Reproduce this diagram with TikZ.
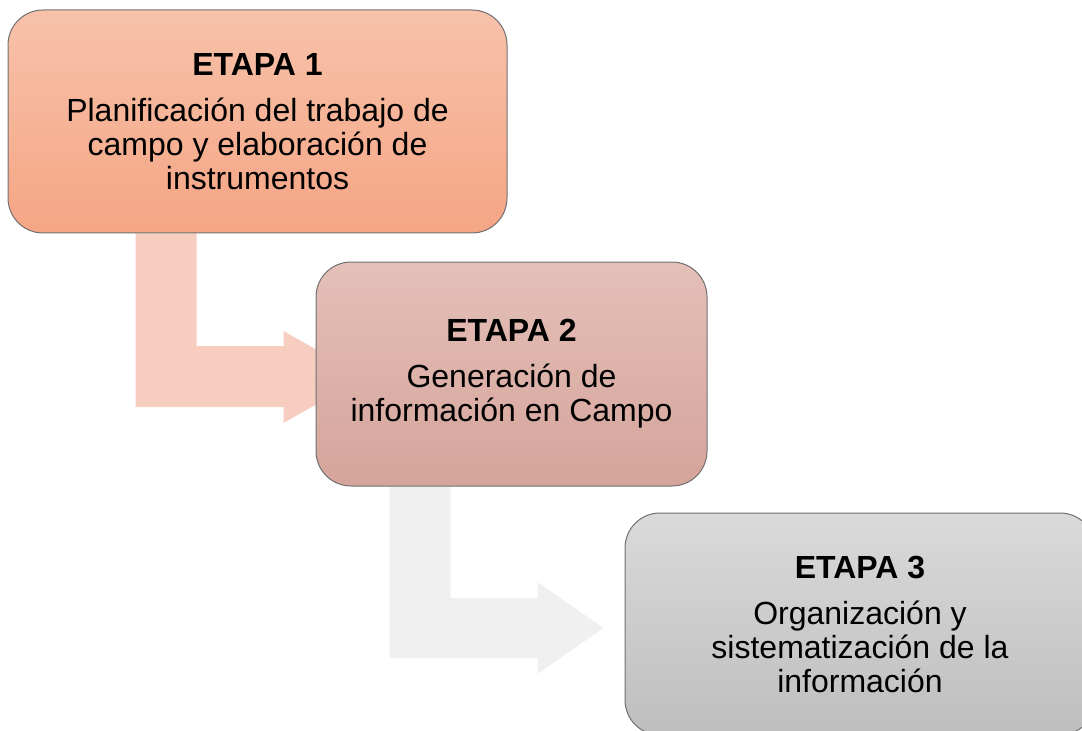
\documentclass[tikz,border=0pt]{standalone}
\usepackage{fontspec}
\setmainfont{Liberation Sans}
\usetikzlibrary{calc,backgrounds}

\tikzset{every picture/.style={line width=0.75pt}}
\tikzset{
  etapa/.style={draw={rgb, 255:red, 112; green, 112; blue, 112 }, rounded corners=26.25pt, inner sep=0pt, align=center, font=\fontsize{24}{25.5}\selectfont},
  etapaUno/.style={etapa, minimum width=374.25pt, minimum height=167.25pt, top color={rgb, 255:red, 247; green, 194; blue, 170 }, bottom color={rgb, 255:red, 245; green, 165; blue, 132 }},
  etapaDos/.style={etapa, minimum width=293.25pt, minimum height=168pt, top color={rgb, 255:red, 228; green, 192; blue, 184 }, bottom color={rgb, 255:red, 213; green, 164; blue, 155 }},
  etapaTres/.style={etapa, minimum width=352.5pt, minimum height=166.5pt, top color={rgb, 255:red, 218; green, 218; blue, 218 }, bottom color={rgb, 255:red, 190; green, 190; blue, 190 }},
  flechaUno/.style={fill={rgb, 255:red, 246; green, 205; blue, 191 }},
  flechaDos/.style={fill={rgb, 255:red, 240; green, 240; blue, 240 }}
}

\begin{document}
\begin{tikzpicture}[x=0.75pt,y=0.75pt,yscale=-1,xscale=1]
    %set diagram to 1082 x 731
    \clip (0,0) rectangle (1082,731);

    %Shape: Rounded Rect [id:etapa1]
    \node [etapaUno] (etapa1) at (257.5,121.5) {\textbf{ETAPA 1}\\[9pt] Planificación del trabajo de\\ campo y elaboración de\\ instrumentos};
    %Shape: Rounded Rect [id:etapa2]
    \node [etapaDos] (etapa2) at (511.5,374) {\textbf{ETAPA 2}\\[9pt] Generación de\\ información en Campo};
    %Shape: Rounded Rect [id:etapa3]
    \node [etapaTres] (etapa3) at (860,624) {\textbf{ETAPA 3}\\[9pt] Organización y\\ sistematización de la\\ información};

    %Bent arrows behind the boxes
    \begin{scope}[on background layer]
    %Shape: Bent Arrow [id:flecha1]
    \coordinate (f1a) at ($(etapa1.south west)+(128,0)$);
    \coordinate (f1b) at ($(etapa1.south west)+(189,0)$);
    \coordinate (f1c) at ($(etapa2.west)+(-32,-28)$);
    \coordinate (f1d) at ($(etapa2.west)+(-32,33)$);
    \fill [flechaUno] (f1a) -- (f1b) |- (f1c) -- ++(0,-15) -- ($(etapa2.west)+(49,3)$) -- ($(etapa2.west)+(-32,49)$) -- (f1d) -- (f1a |- f1d) -- cycle ;
    %Shape: Bent Arrow [id:flecha2]
    \coordinate (f2a) at ($(etapa2.south west)+(74,0)$);
    \coordinate (f2b) at ($(etapa2.south west)+(135,0)$);
    \coordinate (f2c) at ($(etapa3.west)+(-87,-26)$);
    \coordinate (f2d) at ($(etapa3.west)+(-87,34)$);
    \fill [flechaDos] (f2a) -- (f2b) |- (f2c) -- ++(0,-16) -- ($(etapa3.west)+(-21,4)$) -- ($(etapa3.west)+(-87,50)$) -- (f2d) -- (f2a |- f2d) -- cycle ;
    \end{scope}

\end{tikzpicture}
\end{document}
